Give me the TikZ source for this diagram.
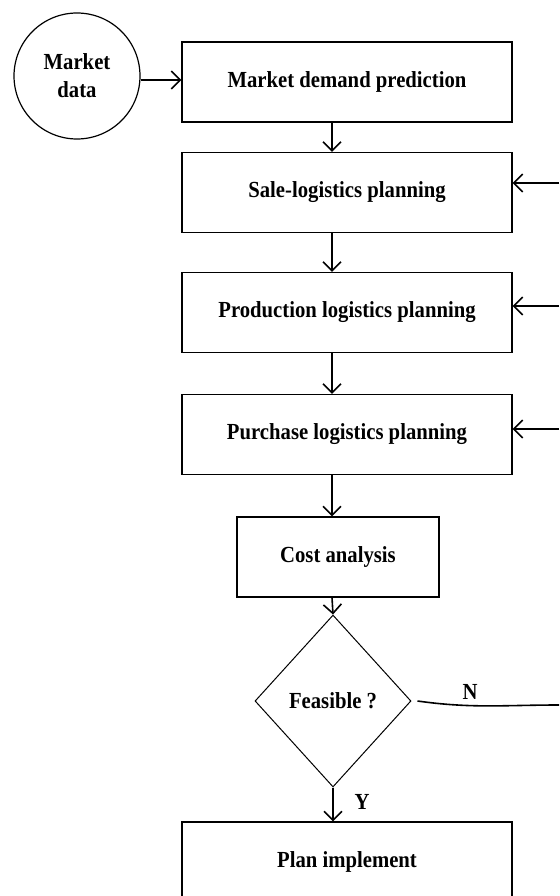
\documentclass[tikz,border=0pt]{standalone}
\usepackage{fontspec}
\setmainfont{Liberation Serif}[FakeStretch=0.9]
\usetikzlibrary{arrows.meta,shapes.geometric}

\begin{document}
\begin{tikzpicture}[x=1pt,y=-1pt,
    txt/.style={font=\fontsize{23}{28}\selectfont\bfseries},
    stagebox/.style={draw, txt, line width=1.2pt, minimum width=330pt, minimum height=80pt, inner sep=0pt},
    flow/.style={line width=1.6pt, -{Straight Barb[length=9pt,width=18pt,line width=1.6pt]}}]

\path[use as bounding box, clip] (0,0) rectangle (559,896);

\node[circle, draw, txt, line width=1.2pt, minimum size=126pt, inner sep=0pt, align=center] (md) at (77,76) {Market\\data};

\node[stagebox] (mdp) at (347,82) {Market demand prediction};
\node[stagebox] (slp) at (347,192.5) {Sale-logistics planning};
\node[stagebox] (plp) at (347,312.5) {Production logistics planning};
\node[stagebox] (pup) at (347,434.5) {Purchase logistics planning};
\node[stagebox, minimum width=202pt] (ca) at (338,557) {Cost analysis};
\node[diamond, draw, txt, line width=1pt, minimum width=156pt, minimum height=172pt, inner sep=0pt] (fe) at (333,701) {Feasible ?};
\node[stagebox] (pi) at (347,862) {Plan implement};

\node[txt] (nl) at (470,692) {N};
\node[txt] (yl) at (362,802) {Y};

\coordinate (ax) at (332,0);
\coordinate (nend) at (559,705);

\draw[flow] (md.east |- 0,80) -- (mdp.west |- 0,80);

\foreach \a/\b in {mdp/slp, slp/plp, plp/pup, pup/ca}
    \draw[flow] (\a.south -| ax) -- (\b.north -| ax);

\draw[flow] (ca.south -| ax) -- (fe.north);
\draw[flow] (fe.south) -- (pi.north -| fe.south);

\foreach \n/\y in {slp/183, plp/306, pup/429}
{
    \coordinate (r\n) at (559,\y);
    \draw[flow] (r\n) -- (r\n -| \n.east);
}

\draw[line width=1.6pt] ([xshift=6pt]fe.east) to[out=-8,in=180] (nend);

\end{tikzpicture}
\end{document}
